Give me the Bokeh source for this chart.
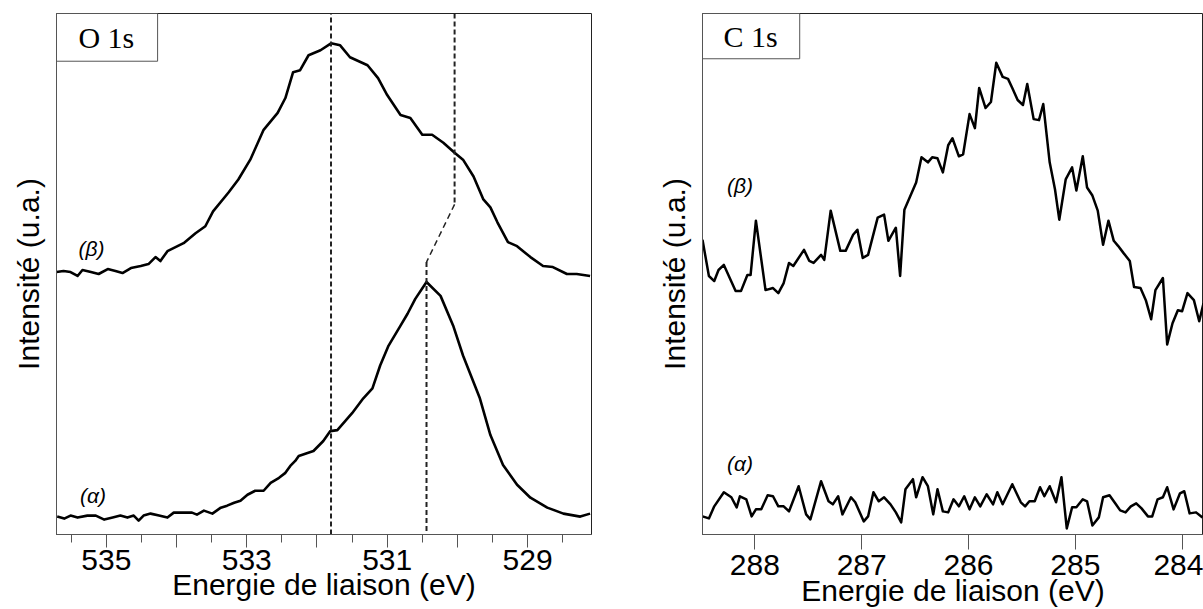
from bokeh.plotting import figure
from bokeh.layouts import row
from bokeh.models import Range1d, FixedTicker
from bokeh.core.properties import value
from bokeh.embed import file_html
from bokeh.resources import INLINE

# ---------------- O 1s panel data ----------------
o1s_beta_E = [535.71, 535.61, 535.51, 535.41, 535.34, 535.22, 535.11, 534.98, 534.87, 534.77,
              534.65, 534.51, 534.40, 534.30, 534.23, 534.13, 533.90, 533.73, 533.59,
              533.48, 533.26, 533.12, 532.95, 532.76, 532.56, 532.45, 532.34, 532.24, 532.12,
              531.95, 531.80, 531.67, 531.53, 531.28, 531.13, 531.00, 530.81, 530.67, 530.50,
              530.36, 530.20, 530.04, 529.92, 529.77, 529.63, 529.53, 529.43, 529.28, 529.15,
              528.96, 528.78, 528.64, 528.44, 528.30, 528.11]
o1s_beta_I = [264, 265, 264, 260, 266, 264, 262, 267, 265, 263,
              268, 270, 272, 279, 275, 285, 293, 303, 310,
              325, 344, 357, 377, 407, 424, 439, 465, 467, 482,
              487, 494, 492, 480, 472, 459, 442, 422, 419, 402,
              402, 394, 384, 377, 360, 337, 329, 314, 294, 290,
              279, 270, 269, 262, 262, 260]

o1s_alpha_E = [535.70, 535.60, 535.51, 535.41, 535.27, 535.15, 535.03, 534.91, 534.80, 534.70,
               534.61, 534.54, 534.47, 534.37, 534.25, 534.13, 534.04, 533.90, 533.78, 533.71,
               533.61, 533.49, 533.37, 533.28, 533.18, 533.09, 532.99, 532.88, 532.76, 532.66,
               532.54, 532.45, 532.38, 532.31, 532.26, 532.05, 531.91, 531.81, 531.71, 531.50,
               531.34, 531.21, 531.10, 530.98, 530.81, 530.71, 530.60, 530.44, 530.24, 530.06,
               529.92, 529.68, 529.53, 529.35, 529.15, 528.96, 528.72, 528.49, 528.25, 528.11]
o1s_alpha_I = [18, 16, 19, 17, 19, 19, 15, 17, 19, 17,
               19, 14, 19, 21, 19, 17, 22, 22, 22, 20,
               24, 21, 27, 29, 32, 34, 40, 44, 44, 52,
               57, 62, 69, 74, 79, 84, 94, 104, 105, 122,
               137, 147, 170, 190, 210, 222, 237, 254, 240, 210,
               180, 137, 100, 70, 50, 37, 27, 21, 18, 21]

o1s_beta_peaks = [531.80, 530.04]
o1s_alpha_peak = 530.44
o1s_ticks = [535, 534, 533, 532, 531, 530, 529]
o1s_minor = [535.5, 534.5, 533.5, 532.5, 531.5, 530.5, 529.5, 528.5]
o1s_labels = {534: "", 532: "", 530: ""}

# ---------------- C 1s panel data ----------------
c1s_beta_E = [288.49, 288.43, 288.38, 288.34, 288.29, 288.18, 288.13, 288.07, 288.04, 287.99,
              287.90, 287.83, 287.78, 287.73, 287.68, 287.64, 287.54, 287.49, 287.45, 287.38,
              287.35, 287.29, 287.20, 287.15, 287.08, 287.04, 286.99, 286.94, 286.85, 286.79,
              286.75, 286.68, 286.64, 286.60, 286.49, 286.44, 286.38, 286.34, 286.29, 286.24,
              286.19, 286.15, 286.09, 286.05, 285.99, 285.94, 285.90, 285.84, 285.79, 285.74,
              285.68, 285.63, 285.59, 285.54, 285.49, 285.45, 285.39, 285.34, 285.30, 285.24,
              285.19, 285.15, 285.09, 285.03, 284.99, 284.93, 284.89, 284.84, 284.79, 284.74,
              284.69, 284.64, 284.60, 284.55, 284.49, 284.45, 284.39, 284.34, 284.29, 284.25,
              284.18, 284.14, 284.09, 284.04, 284.00, 283.95, 283.89, 283.84, 283.80]
c1s_beta_I = [293, 257, 252, 263, 268, 242, 242, 258, 258, 312,
              243, 245, 240, 250, 270, 267, 283, 272, 270, 278,
              273, 322, 282, 282, 298, 303, 275, 278, 315, 318,
              292, 305, 257, 323, 350, 375, 370, 375, 374, 360,
              387, 394, 376, 378, 418, 404, 444, 424, 430, 469,
              455, 453, 444, 432, 427, 448, 413, 412, 428, 370,
              343, 313, 353, 365, 342, 376, 345, 337, 322, 288,
              312, 292, 287, 280, 272, 246, 245, 233, 214, 243,
              255, 189, 210, 223, 222, 240, 233, 212, 230]

c1s_alpha_E = [288.49, 288.43, 288.38, 288.29, 288.22, 288.17, 288.14, 288.08, 288.03, 287.99,
               287.94, 287.88, 287.83, 287.78, 287.73, 287.68, 287.59, 287.52, 287.48, 287.38,
               287.31, 287.27, 287.22, 287.18, 287.10, 287.06, 286.98, 286.94, 286.89, 286.84,
               286.79, 286.73, 286.68, 286.63, 286.59, 286.52, 286.49, 286.43, 286.38, 286.33,
               286.29, 286.24, 286.19, 286.14, 286.09, 286.04, 285.99, 285.94, 285.89, 285.83,
               285.77, 285.73, 285.68, 285.59, 285.51, 285.47, 285.43, 285.38, 285.33, 285.29,
               285.24, 285.18, 285.13, 285.08, 285.03, 284.99, 284.93, 284.89, 284.84, 284.78,
               284.74, 284.68, 284.62, 284.58, 284.53, 284.48, 284.43, 284.38, 284.32, 284.28,
               284.23, 284.18, 284.14, 284.08, 284.02, 283.98, 283.93, 283.87, 283.81]
c1s_alpha_I = [18, 16, 28, 42, 37, 27, 38, 35, 18, 25,
               25, 39, 38, 28, 28, 23, 48, 20, 15, 53,
               33, 30, 38, 20, 37, 32, 13, 18, 42, 33,
               37, 30, 22, 12, 45, 55, 37, 57, 48, 20,
               45, 23, 22, 35, 28, 38, 25, 37, 28, 40,
               30, 42, 30, 50, 32, 28, 33, 33, 47, 38,
               48, 32, 57, 6, 27, 27, 35, 33, 9, 17,
               37, 39, 30, 24, 22, 28, 31, 26, 18, 18,
               35, 37, 47, 25, 41, 43, 21, 22, 17]

c1s_ticks = [288, 287, 286, 285, 284]

SANS = "Liberation Sans"
SERIF = "Liberation Serif"
AX = "#555555"
FS = "30px"
XLABEL = "Energie de liaison (eV)"
YLABEL = "Intensité (u.a.)"


def style(p, ticks, minor, overrides, tick_out, s1, s2):
    p.outline_line_color = "#222222"
    p.outline_line_width = 1
    p.background_fill_color = "white"
    p.border_fill_color = "white"
    p.grid.visible = False
    xa = p.xaxis[0]
    xa.ticker = FixedTicker(ticks=ticks, minor_ticks=minor)
    xa.major_label_overrides = overrides
    xa.major_tick_out = tick_out
    xa.major_tick_in = 0
    xa.minor_tick_out = 8
    xa.minor_tick_in = 0
    xa.major_tick_line_color = AX
    xa.minor_tick_line_color = AX
    xa.axis_line_color = AX
    xa.major_label_text_font = SANS
    xa.major_label_text_font_size = FS
    xa.major_label_text_color = "black"
    xa.major_label_standoff = s1
    xa.axis_label = XLABEL
    xa.axis_label_text_font = SANS
    xa.axis_label_text_font_size = FS
    xa.axis_label_text_font_style = "normal"
    xa.axis_label_text_color = "black"
    xa.axis_label_standoff = s2
    ya = p.yaxis[0]
    ya.ticker = FixedTicker(ticks=[])
    ya.major_tick_out = 0
    ya.major_tick_in = 0
    ya.minor_tick_out = 0
    ya.minor_tick_in = 0
    ya.major_label_standoff = 0
    ya.axis_line_color = AX
    ya.axis_label = YLABEL
    ya.axis_label_text_font = SANS
    ya.axis_label_text_font_size = FS
    ya.axis_label_text_font_style = "normal"
    ya.axis_label_text_color = "black"
    ya.axis_label_standoff = 12


# ---------------- left panel ----------------
p1 = figure(width=621, height=609, output_backend="svg", toolbar_location=None,
            x_range=Range1d(535.71, 528.09), y_range=Range1d(0, 524),
            min_border_left=56, min_border_right=30, min_border_top=13, min_border_bottom=0)
style(p1, o1s_ticks, o1s_minor, o1s_labels, 13, 2, -5)

p1.line(o1s_beta_E, o1s_beta_I, line_color="black", line_width=2.6, line_join="round")
p1.line(o1s_alpha_E, o1s_alpha_I, line_color="black", line_width=2.6, line_join="round")

p1.line([o1s_beta_peaks[0], o1s_beta_peaks[0]], [0, 524], line_color="#222222",
        line_width=2, line_dash="5 3")
p1.line([o1s_beta_peaks[1], o1s_beta_peaks[1]], [524, 332], line_color="#222222",
        line_width=2, line_dash="5 3")
p1.line([o1s_beta_peaks[1], o1s_alpha_peak], [332, 274], line_color="#222222",
        line_width=1.5, line_dash="6 4")
p1.line([o1s_alpha_peak, o1s_alpha_peak], [274, 0], line_color="#222222",
        line_width=2, line_dash="5 3")

p1.quad(left=[535.71], right=[534.27], top=[524], bottom=[476],
        fill_color="white", line_color="#555555", line_width=1)
p1.text(x=[535.0], y=[500], text=["O 1s"], text_font=value(SERIF), text_font_size="30px",
        text_align="center", text_baseline="middle", text_color="black")
p1.text(x=[535.21, 535.19], y=[288, 39], text=["(β)", "(α)"], text_font=value(SANS),
        text_font_size="21px", text_font_style="italic", text_align="center",
        text_baseline="middle", text_color="black")

# ---------------- right panel ----------------
p2 = figure(width=582, height=609, output_backend="svg", toolbar_location=None,
            x_range=Range1d(288.49, 283.80), y_range=Range1d(0, 518),
            min_border_left=81, min_border_right=0, min_border_top=12, min_border_bottom=0)
style(p2, c1s_ticks, [], {}, 15, 5, -4)

p2.line(c1s_beta_E, c1s_beta_I, line_color="black", line_width=2.5, line_join="round")
p2.line(c1s_alpha_E, c1s_alpha_I, line_color="black", line_width=2.5, line_join="round")

p2.quad(left=[288.49], right=[287.58], top=[518], bottom=[473],
        fill_color="white", line_color="#555555", line_width=1)
p2.text(x=[288.04], y=[495.5], text=["C 1s"], text_font=value(SERIF), text_font_size="30px",
        text_align="center", text_baseline="middle", text_color="black")
p2.text(x=[288.14, 288.14], y=[347, 71], text=["(β)", "(α)"], text_font=value(SANS),
        text_font_size="21px", text_font_style="italic", text_align="center",
        text_baseline="middle", text_color="black")

layout = row(p1, p2)
open("out.html", "w").write(file_html(layout, INLINE))
